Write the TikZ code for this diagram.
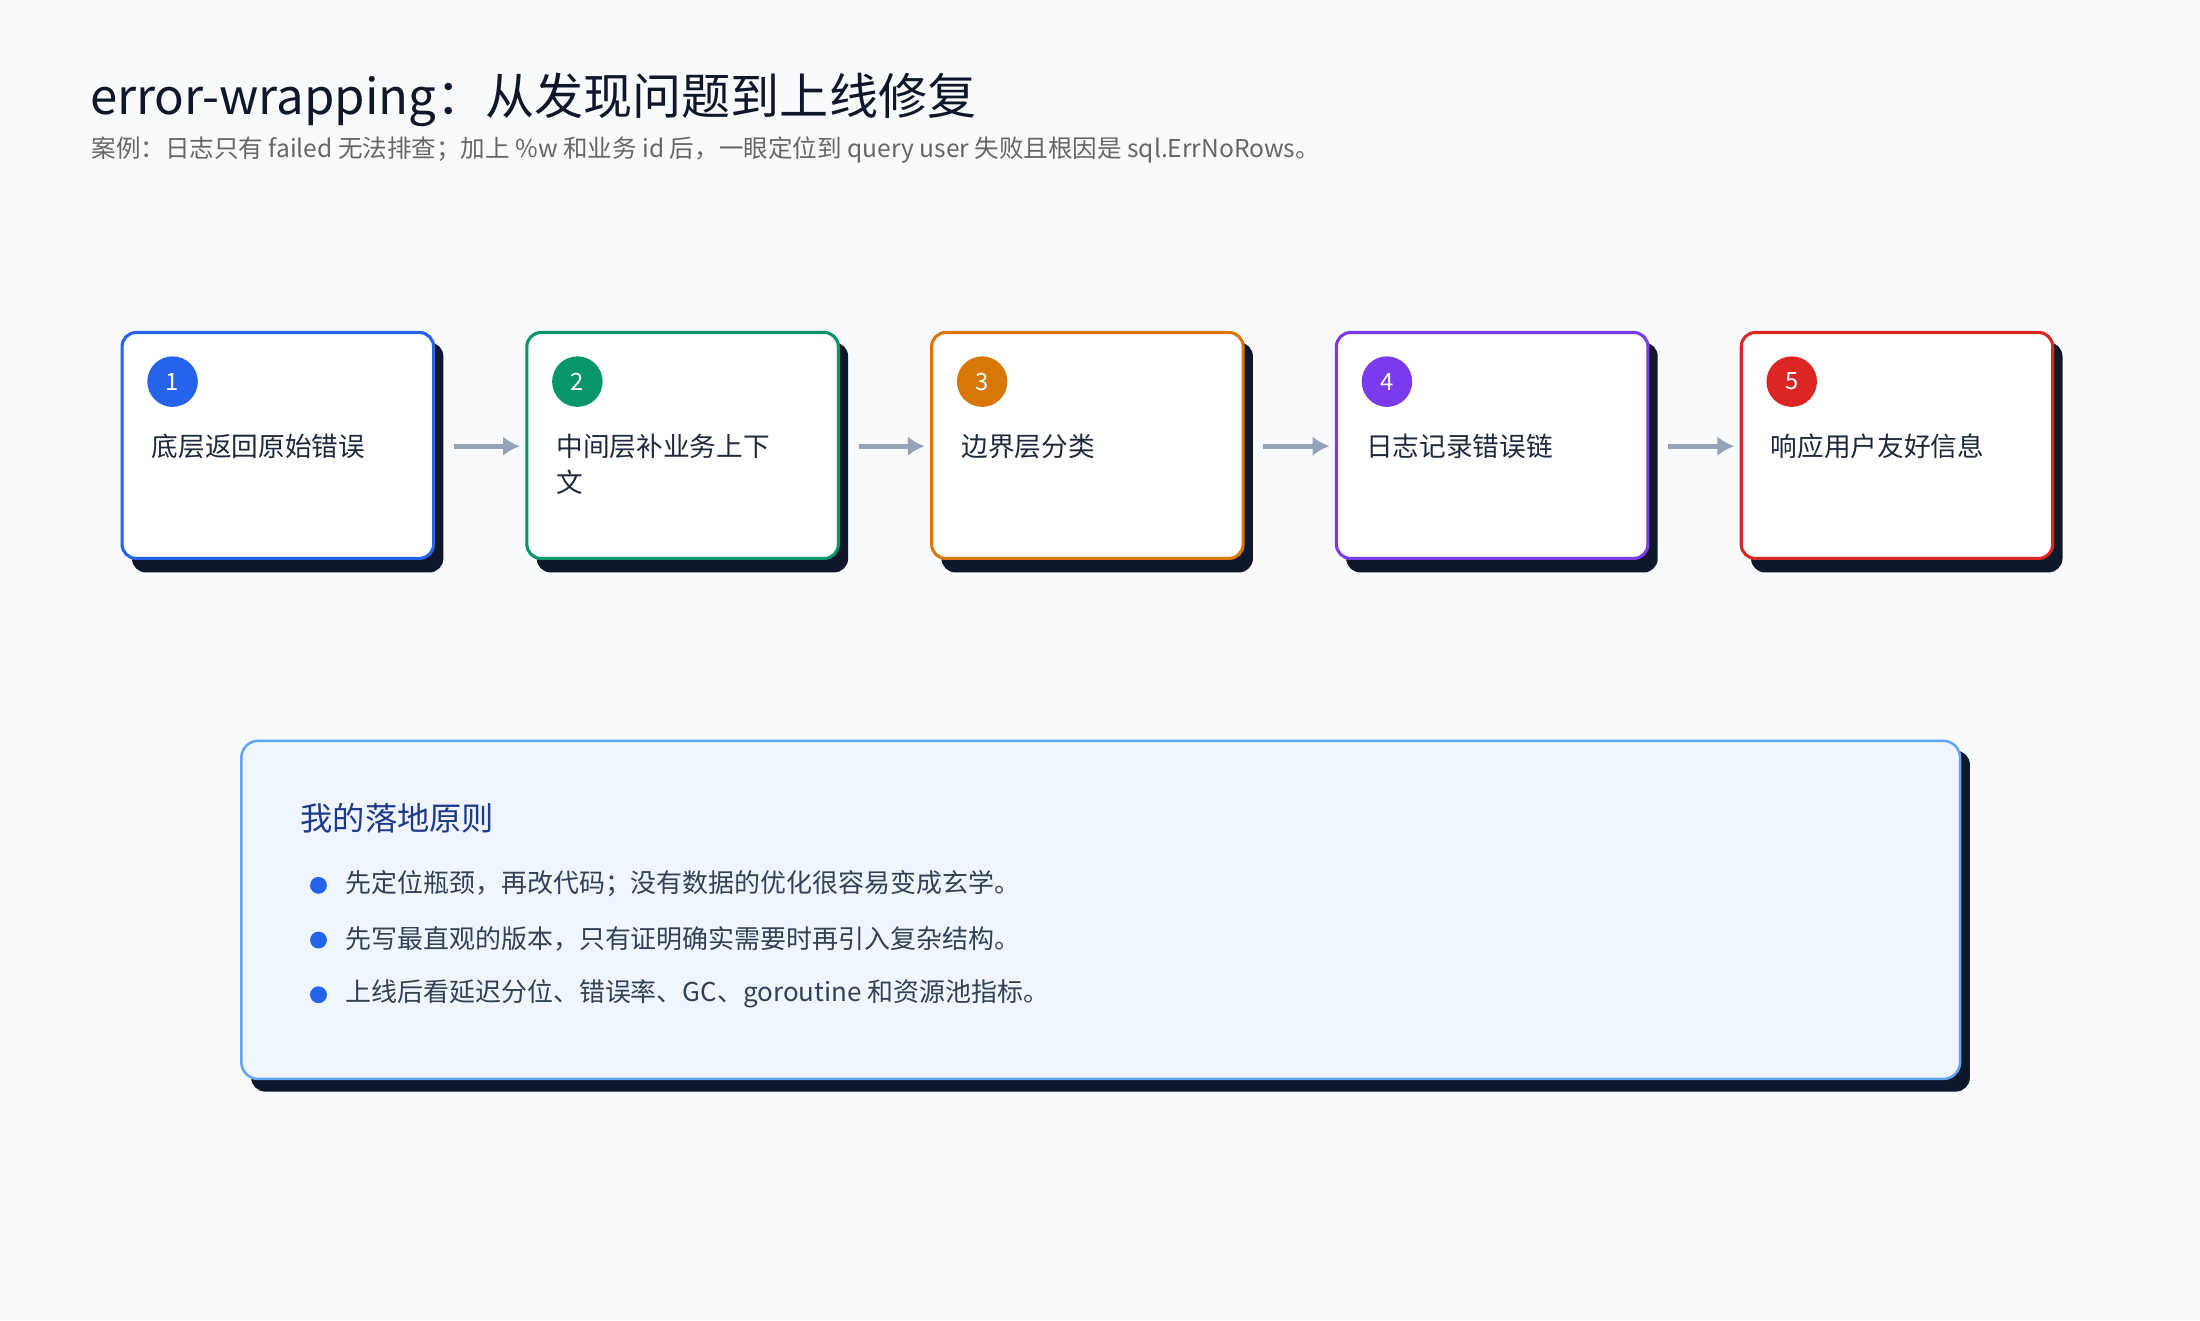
\documentclass[tikz,border=0pt]{standalone}
\usepackage{fontspec}
\setmainfont{Noto Sans CJK SC}
\begin{document}
\begin{tikzpicture}[x=1pt,y=-1pt,
  card/.style={draw=#1,line width=2.2pt,rounded corners=10pt,fill=white},
  shad/.style={fill=shadowc,rounded corners=10pt},
  num/.style={circle,fill=#1,minimum size=36pt,inner sep=0pt,text=white,font=\fontsize{17}{17}\selectfont},
  lbl/.style={anchor=west,align=left,text=textc,font=\fontsize{19}{26}\selectfont,inner sep=0pt},
  arr/.style={draw=arrc,line width=3.5pt,-{Latex[length=12pt,width=14pt]}},
  dot/.style={circle,fill=bluec,minimum size=12pt,inner sep=0pt},
  btxt/.style={anchor=west,text=textc2,font=\fontsize{18.5}{22}\selectfont,inner sep=0pt}]
\usetikzlibrary{arrows.meta}
\definecolor{bg}{HTML}{F8FAFC}
\definecolor{shadowc}{HTML}{0F172A}
\definecolor{textc}{HTML}{1E293B}
\definecolor{textc2}{HTML}{334155}
\definecolor{arrc}{HTML}{94A3B8}
\definecolor{bluec}{HTML}{2563EB}
\definecolor{greenc}{HTML}{059669}
\definecolor{orangec}{HTML}{D97706}
\definecolor{purplec}{HTML}{7C3AED}
\definecolor{redc}{HTML}{DC2626}
\definecolor{panelc}{HTML}{EFF6FF}
\definecolor{panelb}{HTML}{60A5FA}
\definecolor{titlec}{HTML}{1E3A8A}
\fill[bg] (0,0) rectangle (1568,941);
\useasboundingbox (0,0) rectangle (1568,941);
\node[anchor=west,inner sep=0pt,text=shadowc,font=\fontsize{35}{40}\selectfont] (title) at (64,71) {error-wrapping：从发现问题到上线修复};
\node[anchor=west,inner sep=0pt,text=gray!80!black,font=\fontsize{17.5}{20}\selectfont] (sub) at (65,107) {案例：日志只有 failed 无法排查；加上 \%w 和业务 id 后，一眼定位到 query user 失败且根因是 sql.ErrNoRows。};
\foreach \i/\c/\t in {0/bluec/底层返回原始错误,1/greenc/{中间层补业务上下\\文},2/orangec/边界层分类,3/purplec/日志记录错误链,4/redc/响应用户友好信息}{
  \pgfmathsetmacro{\x}{87+288.5*\i}
  \fill[shad] (\x+7,244) rectangle (\x+229,408);
  \draw[card=\c] (\x,237) rectangle (\x+222,398);
  \node[num=\c] (n\i) at (\x+36,272) {\the\numexpr\i+1\relax};
  \node[lbl,anchor=north west] (t\i) at (\x+21,309) {\t};
  \coordinate (L\i) at (\x-52,318);
  \coordinate (R\i) at (\x-5,318);
}
\foreach \i in {1,2,3,4}{\draw[arr] (L\i) -- (R\i);}
\fill[shad] (179,535) rectangle (1404,778);
\draw[draw=panelb,line width=1.8pt,rounded corners=12pt,fill=panelc] (172,528) rectangle (1397,769);
\node[anchor=west,inner sep=0pt,text=titlec,font=\fontsize{23}{26}\selectfont] (pt) at (214,583) {我的落地原则};
\foreach \y/\t [count=\k] in {631/先定位瓶颈，再改代码；没有数据的优化很容易变成玄学。,670/先写最直观的版本，只有证明确实需要时再引入复杂结构。,709/上线后看延迟分位、错误率、GC、goroutine 和资源池指标。}{
  \node[dot] (d\k) at (227,\y) {};
  \node[btxt] (b\k) at (246,\y-1) {\t};
}
\end{tikzpicture}
\end{document}
